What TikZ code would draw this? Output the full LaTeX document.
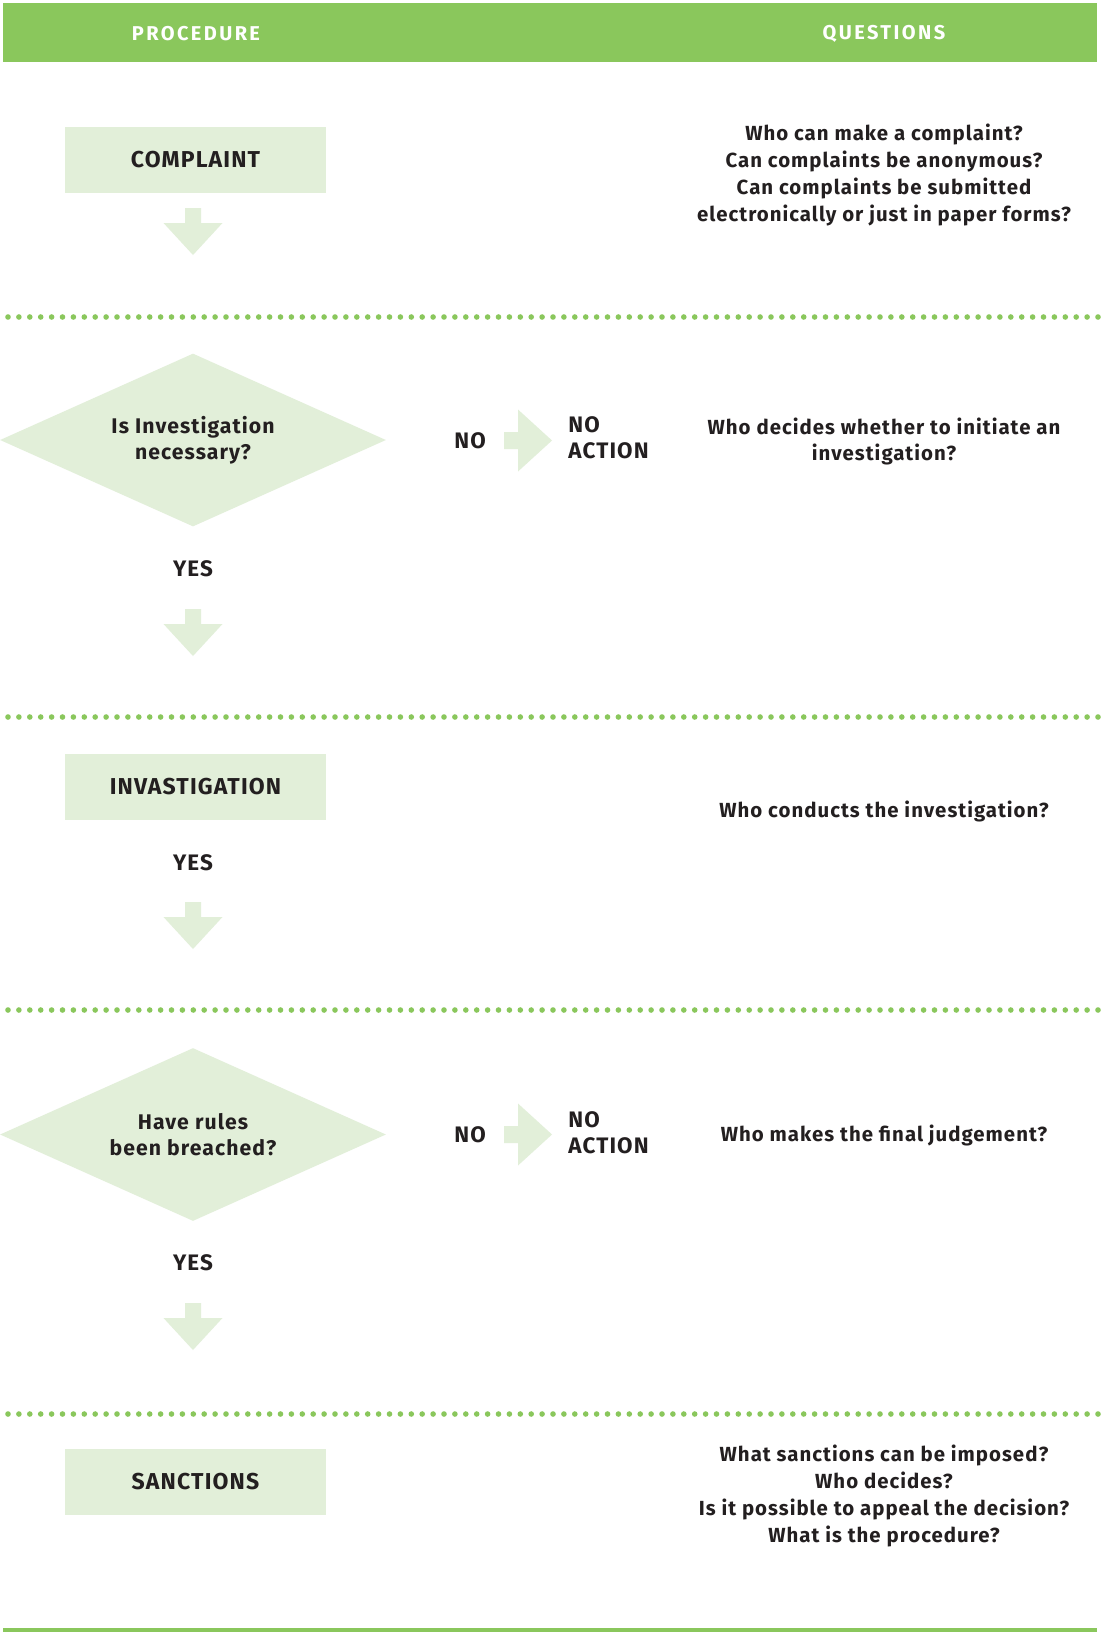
\documentclass[tikz,border=0pt]{standalone}
\usepackage{fontspec}
\setmainfont{Fira Sans}
\usetikzlibrary{shapes.geometric}
\definecolor{leaf}{HTML}{8AC75C}
\definecolor{pale}{HTML}{E2EFD9}
\definecolor{ink}{HTML}{231F20}
\newcommand\spaced[1]{\addfontfeature{LetterSpace=#1}}
\tikzset{
  hdr/.style={font=\bfseries\fontsize{10}{12}\selectfont\spaced{12}, text=white},
  stage/.style={fill=pale, minimum width=130.5pt, minimum height=33pt, inner sep=0pt,
    font=\bfseries\fontsize{11.5}{13}\selectfont\spaced{5}, text=ink},
  choice/.style={diamond, aspect=2.2, fill=pale, minimum width=193pt, minimum height=86.5pt, inner sep=0pt,
    align=center, font=\bfseries\fontsize{10.6}{12.8}\selectfont\spaced{5}, text=ink},
  lbl/.style={font=\bfseries\fontsize{11.2}{12.8}\selectfont\spaced{5}, text=ink, inner sep=0pt},
  quest/.style={align=center, font=\bfseries\fontsize{10.2}{13.4}\selectfont\spaced{5}, text=ink, inner sep=0pt},
  sep/.style={draw=leaf, line width=2.8pt, line cap=round, dash pattern=on 0pt off 5.45pt},
  downarrow/.pic={\fill[pale] (-8,0) -- (8,0) -- (8,15) -- (29.5,15) -- (0,47) -- (-29.5,15) -- (-8,15) -- cycle;},
  rightarrow/.pic={\fill[pale] (0,-8.5) -- (14,-8.5) -- (14,-31) -- (48,0) -- (14,31) -- (14,8.5) -- (0,8.5) -- cycle;}
}
\begin{document}
\begin{tikzpicture}[x=0.5pt,y=-0.5pt]
\useasboundingbox (0,0) rectangle (1100,1634);
\fill[white] (0,0) rectangle (1100,1634);

% header band
\fill[leaf] (3,3) rectangle (1097,62);
\node[hdr] (hproc) at (196,34) {PROCEDURE};
\node[hdr] (hquest) at (884,34) {QUESTIONS};

% section 1: complaint
\node[stage] (complaint) at (195.5,160) {COMPLAINT};
\pic at (193,208) {downarrow};
\node[quest] (q1) at (884,175) {Who can make a complaint?\\Can complaints be anonymous?\\Can complaints be submitted\\electronically or just in paper forms?};

\coordinate (s1a) at (8,317); \coordinate (s1b) at (1100,317);
\draw[sep] (s1a) -- (s1b);

% section 2: decision on investigation
\node[choice] (d1) at (193,440) {Is Investigation\\necessary?};
\node[lbl] (no1) at (470,441) {NO};
\pic at (504,440.5) {rightarrow};
\node[lbl, align=left, anchor=west] (na1) at (568,438) {NO\\ACTION};
\node[quest] (q2) at (884,441.5) {Who decides whether to initiate an\\investigation?};
\node[lbl] (yes1) at (193,569) {YES};
\pic at (193,609) {downarrow};

\coordinate (s2a) at (8,717); \coordinate (s2b) at (1100,717);
\draw[sep] (s2a) -- (s2b);

% section 3: investigation
\node[stage] (invest) at (195.5,787) {INVASTIGATION};
\node[quest] (q3) at (884,811) {Who conducts the investigation?};
\node[lbl] (yes2) at (193,863) {YES};
\pic at (193,902) {downarrow};

\coordinate (s3a) at (8,1010); \coordinate (s3b) at (1100,1010);
\draw[sep] (s3a) -- (s3b);

% section 4: breach decision
\node[choice] (d2) at (193,1134.5) {Have rules\\been breached?};
\node[lbl] (no2) at (470,1135) {NO};
\pic at (504,1134.5) {rightarrow};
\node[lbl, align=left, anchor=west] (na2) at (568,1133) {NO\\ACTION};
\node[quest] (q4) at (884,1135) {Who makes the final judgement?};
\node[lbl] (yes3) at (193,1263) {YES};
\pic at (193,1303) {downarrow};

\coordinate (s4a) at (8,1414); \coordinate (s4b) at (1100,1414);
\draw[sep] (s4a) -- (s4b);

% section 5: sanctions
\node[stage] (sanct) at (195.5,1482) {SANCTIONS};
\node[quest] (q5) at (884,1496) {What sanctions can be imposed?\\Who decides?\\Is it possible to appeal the decision?\\What is the procedure?};

% closing rule
\coordinate (ea) at (3,1630); \coordinate (eb) at (1097,1630);
\draw[leaf, line width=2pt] (ea) -- (eb);
\end{tikzpicture}
\end{document}
